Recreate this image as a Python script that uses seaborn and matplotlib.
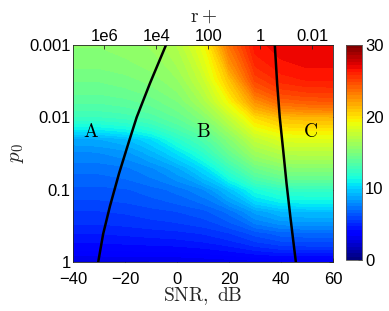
import numpy as np
import matplotlib
matplotlib.use("Agg")
import matplotlib.pyplot as plt
import seaborn as sns
import pandas as pd

# ---- data ----
snr = [-40, -30, -20, -10, 0, 10, 20, 30, 40, 50, 60]
p0 = [0.001, 0.003, 0.006, 0.01, 0.016, 0.02, 0.03, 0.05, 0.1, 0.2, 0.4, 1.0]
z_0001 = [15.5, 15.5, 15.7, 16.0, 16.9, 19.0, 23.5, 26.5, 27.0, 27.2, 27.2]
z_0003 = [14.6, 14.6, 14.8, 15.2, 15.9, 17.7, 21.0, 25.0, 26.0, 26.3, 26.3]
z_0006 = [13.7, 13.7, 13.9, 14.3, 15.0, 16.6, 19.3, 22.6, 24.0, 24.3, 24.4]
z_001 = [12.6, 12.6, 12.8, 13.3, 14.1, 15.3, 17.5, 20.2, 21.2, 21.4, 21.5]
z_0016 = [10.2, 10.3, 10.7, 11.5, 12.8, 14.0, 16.0, 18.4, 19.4, 19.5, 19.5]
z_002 = [8.8, 8.9, 9.3, 10.3, 12.0, 13.3, 15.3, 17.5, 18.5, 18.6, 18.6]
z_003 = [7.9, 8.0, 8.3, 9.2, 10.5, 12.2, 14.3, 16.3, 17.1, 17.2, 17.2]
z_005 = [7.2, 7.2, 7.4, 7.9, 8.8, 10.3, 12.6, 14.5, 15.3, 15.4, 15.4]
z_01 = [6.4, 6.4, 6.5, 6.8, 7.2, 7.9, 9.5, 11.5, 12.3, 12.4, 12.4]
z_02 = [5.6, 5.6, 5.7, 5.9, 6.1, 6.4, 7.2, 8.6, 9.3, 9.4, 9.4]
z_04 = [4.7, 4.7, 4.8, 4.9, 5.0, 5.2, 5.6, 6.3, 6.8, 6.9, 6.9]
z_1 = [2.7, 2.7, 2.7, 2.7, 2.7, 2.8, 2.9, 3.0, 3.1, 3.1, 3.1]

left_p = [0.001, 0.0034, 0.01, 0.023, 0.06, 0.17, 0.41, 1.0]
left_snr = [-4.3, -10.5, -15.6, -18.8, -22.4, -25.9, -28.5, -30.4]
right_p = [0.001, 0.0034, 0.01, 0.028, 0.081, 0.24, 1.0]
right_snr = [37.6, 38.5, 39.5, 40.8, 42.1, 43.6, 45.7]

r_ticks = [1e6, 1e4, 100, 1, 0.01]
r_labels = ["1e6", "1e4", "100", "1", "0.01"]
x_ticks = [-40, -20, 0, 20, 40, 60]
y_ticks = [0.001, 0.01, 0.1, 1]
y_labels = ["0.001", "0.01", "0.1", "1"]
cb_ticks = [0, 10, 20, 30]
regions = [("A", -33, 0.016), ("B", 10, 0.016), ("C", 51.5, 0.016)]

# ---- style ----
sns.set_style("white")
plt.rcParams["font.family"] = ["Liberation Sans", "DejaVu Sans"]
plt.rcParams["mathtext.fontset"] = "cm"

fig = plt.figure(figsize=(3.89, 3.11), dpi=100)
ax = fig.add_axes([0.1884, 0.1576, 0.6676, 0.6977])

Z = np.array([z_0001, z_0003, z_0006, z_001, z_0016, z_002, z_003,
              z_005, z_01, z_02, z_04, z_1])
X, P = np.meshgrid(snr, p0)
cmap = plt.get_cmap("jet", 64)
levels = np.linspace(0, 30, 65)
ax.set_yscale("log")
cs = ax.contourf(X, P, Z, levels=levels, cmap=cmap, antialiased=False)

df_l = pd.DataFrame({"snr": left_snr, "p": left_p})
df_r = pd.DataFrame({"snr": right_snr, "p": right_p})
sns.lineplot(data=df_l, x="snr", y="p", sort=False, estimator=None,
             color="black", lw=1.8, ax=ax)
sns.lineplot(data=df_r, x="snr", y="p", sort=False, estimator=None,
             color="black", lw=1.8, ax=ax)

for lab, xx, yy in regions:
    ax.text(xx, yy, r"$\mathrm{%s}$" % lab, fontsize=14, ha="center",
            va="center", color="black")

ax.set_xlim(-40, 60)
ax.set_ylim(1, 0.001)
ax.set_xticks(x_ticks)
ax.set_xticklabels([("\u2212%d" % -t) if t < 0 else str(t) for t in x_ticks])
ax.set_yticks(y_ticks)
ax.set_yticklabels(y_labels)
ax.yaxis.set_minor_locator(matplotlib.ticker.NullLocator())
ax.tick_params(direction="in", length=3, width=0.6, labelsize=12,
               top=True, right=True, colors="#262626", labelcolor="black",
               pad=2)
ax.tick_params(axis="x", pad=7)
ax.set_xlabel(r"$\mathrm{SNR,\ dB}$", fontsize=14, labelpad=-1)
ax.set_ylabel(r"$p_0$", fontsize=15, labelpad=2)
for s in ax.spines.values():
    s.set_color("#262626")
    s.set_linewidth(0.6)

ax2 = ax.twiny()
ax2.set_xlim(-40, 60)
ax2.set_xticks([32 - 10 * np.log10(r) for r in r_ticks])
ax2.set_xticklabels(r_labels)
ax2.tick_params(direction="in", length=3, width=0.6, labelsize=12,
                colors="#262626", labelcolor="black", pad=1)
ax2.set_xlabel(r"$\mathrm{r+}$", fontsize=14, labelpad=5)
for s in ax2.spines.values():
    s.set_visible(False)

cax = fig.add_axes([0.8887, 0.164, 0.0427, 0.691])
cb = fig.colorbar(cs, cax=cax, ticks=cb_ticks)
cb.ax.tick_params(direction="in", length=3, width=0.6, labelsize=12,
                  colors="#262626", labelcolor="black", pad=2)
cb.outline.set_edgecolor("#555555")
cb.outline.set_linewidth(0.6)

fig.savefig("out.png", dpi=100)
